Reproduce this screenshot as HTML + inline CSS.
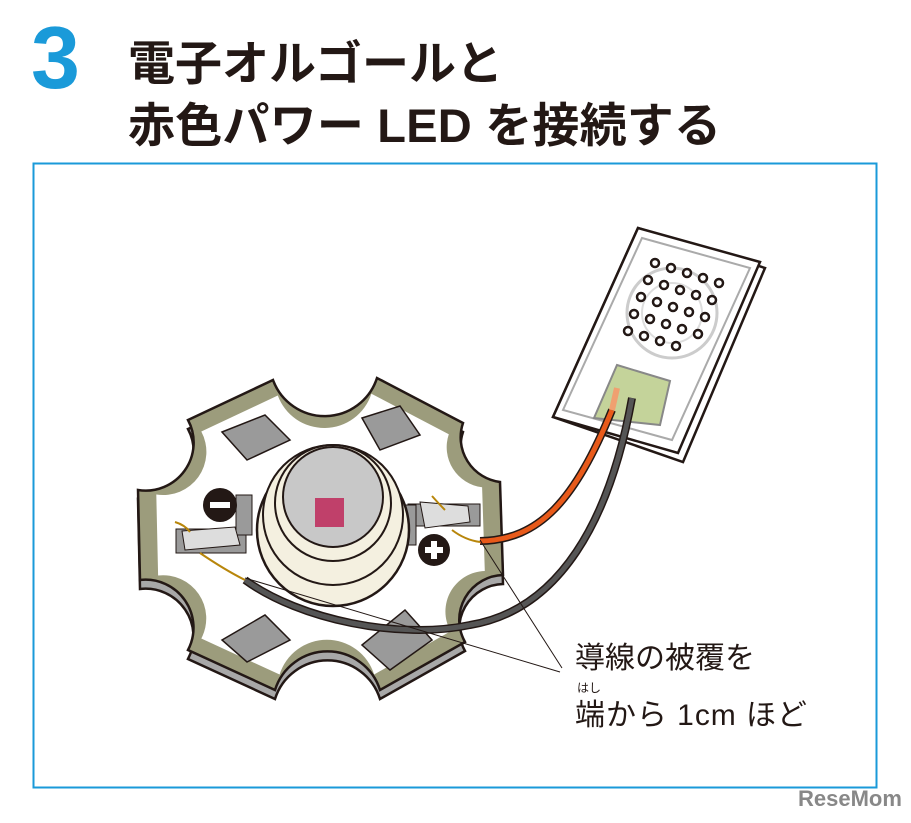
<!DOCTYPE html>
<html><head><meta charset="utf-8"><style>
body{margin:0;background:#fff;width:911px;height:818px;overflow:hidden;font-family:"Liberation Sans","Noto Sans CJK JP",sans-serif}
</style></head><body>
<svg width="911" height="818" viewBox="0 0 911 818" xmlns="http://www.w3.org/2000/svg">
<text x="31" y="88" font-family="Liberation Sans,sans-serif" font-weight="bold" font-size="88" fill="#1a9ad9">3</text>
<g font-family="Liberation Sans,Noto Sans CJK JP,sans-serif" font-weight="bold" font-size="47" fill="#231815">
<text x="128" y="80">電子オルゴールと</text>
<text x="128" y="142" textLength="593" lengthAdjust="spacing">赤色パワー LED を接続する</text>
</g>
<rect x="33.5" y="163.5" width="843" height="624" fill="none" stroke="#1a9ad9" stroke-width="2"/>
<defs>
<path id="star" d="M188,420 L273,380 A55,55 0 0 0 377,378 L463,423 A45,45 0 0 0 500,482 L503,575 A45,45 0 0 0 465,642 L380,690 A55,55 0 0 0 275,690 L188,650 A48,48 0 0 0 140,580 L138,490 A48,48 0 0 0 188,420 Z"/>
</defs>
<use href="#star" transform="translate(0,9)" fill="#a8a8a8" stroke="#231815" stroke-width="2.5"/>
<use href="#star" fill="#9c9c7c" stroke="#231815" stroke-width="2.5"/>
<use href="#star" transform="translate(321,535) scale(0.9) translate(-321,-535)" fill="#fff"/>
<g fill="#9a9a9a" stroke="#231815" stroke-width="1.5">
<polygon points="222,432 265,415 290,440 247,460"/>
<polygon points="362,418 400,406 420,435 380,450"/>
<polygon points="222,640 265,615 290,640 247,662"/>
<polygon points="362,645 405,610 432,640 390,670"/>
</g>
<rect x="176" y="529" width="70" height="24" fill="#9a9a9a" stroke="#231815"/>
<rect x="236" y="495" width="16" height="40" fill="#9a9a9a" stroke="#231815"/>
<path d="M182,531 L235,527 L240,545 L185,550 Z" fill="#ddd" stroke="#231815"/>
<rect x="408" y="504" width="72" height="22" fill="#9a9a9a" stroke="#231815"/>
<rect x="402" y="505" width="14" height="40" fill="#9a9a9a" stroke="#231815"/>
<path d="M420,502 L468,506 L470,522 L425,528 Z" fill="#ddd" stroke="#231815"/>
<circle cx="333" cy="530" r="76" fill="#f4f0e0" stroke="#231815" stroke-width="2.5"/>
<circle cx="333" cy="515" r="70" fill="#f4f0e0" stroke="#231815" stroke-width="2"/>
<circle cx="333" cy="503" r="58" fill="#f4f0e0" stroke="#231815" stroke-width="2"/>
<circle cx="333" cy="497" r="50" fill="#c8c8c8" stroke="#231815" stroke-width="2"/>
<rect x="315" y="498" width="29" height="29" fill="#c0406a"/>
<circle cx="220" cy="505" r="17" fill="#231815"/><rect x="210" y="502" width="20" height="6" fill="#fff"/>
<circle cx="434" cy="550" r="16" fill="#231815"/><rect x="425" y="547" width="18" height="6" fill="#fff"/><rect x="431" y="541" width="6" height="18" fill="#fff"/>
<path d="M175,522 Q185,525 190,532" stroke="#b8860b" stroke-width="2" fill="none"/>
<path d="M200,553 Q225,570 245,580" stroke="#b8860b" stroke-width="2" fill="none"/>
<path d="M432,496 Q440,505 445,510" stroke="#b8860b" stroke-width="2" fill="none"/>
<path d="M452,530 Q465,540 480,542" stroke="#b8860b" stroke-width="2" fill="none"/>
<polygon points="553,417 638,228 765,268 683,462 " fill="#fff" stroke="#231815" stroke-width="2.5"/>
<polygon points="553,417 638,228 760,262 678,453" fill="#fff" stroke="#231815" stroke-width="2.5"/>
<polygon points="563,410 642,238 750,268 672,440" fill="none" stroke="#aaa" stroke-width="2"/>
<circle cx="672" cy="313" r="45" fill="none" stroke="#ccc" stroke-width="3"/>
<circle cx="672" cy="313" r="30" fill="none" stroke="#ddd" stroke-width="2"/>
<g fill="#fff" stroke="#231815" stroke-width="2.5">
<circle cx="655" cy="263" r="4"/><circle cx="671" cy="268" r="4"/><circle cx="687" cy="273" r="4"/><circle cx="703" cy="278" r="4"/><circle cx="719" cy="283" r="4"/>
<circle cx="648" cy="280" r="4"/><circle cx="664" cy="285" r="4"/><circle cx="680" cy="290" r="4"/><circle cx="696" cy="295" r="4"/><circle cx="712" cy="300" r="4"/>
<circle cx="641" cy="297" r="4"/><circle cx="657" cy="302" r="4"/><circle cx="673" cy="307" r="4"/><circle cx="689" cy="312" r="4"/><circle cx="705" cy="317" r="4"/>
<circle cx="634" cy="314" r="4"/><circle cx="650" cy="319" r="4"/><circle cx="666" cy="324" r="4"/><circle cx="682" cy="329" r="4"/><circle cx="698" cy="334" r="4"/>
<circle cx="628" cy="331" r="4"/><circle cx="644" cy="336" r="4"/><circle cx="660" cy="341" r="4"/><circle cx="676" cy="346" r="4"/>
</g>
<polygon points="617,365 670,381 660,425 594,418" fill="#c4d39a" stroke="#888" stroke-width="2"/>
<path d="M480,541 C540,540 575,500 612,410" stroke="#231815" stroke-width="8" fill="none"/>
<path d="M480,541 C540,540 575,500 612,410" stroke="#e85a1a" stroke-width="5" fill="none"/>
<path d="M245,580 C300,620 400,640 470,625 C560,610 610,520 632,398" stroke="#231815" stroke-width="8" fill="none"/>
<path d="M245,580 C300,620 400,640 470,625 C560,610 610,520 632,398" stroke="#555" stroke-width="5" fill="none"/>
<path d="M612,410 L617,388" stroke="#f0a070" stroke-width="6"/>
<path d="M245,578 L560,672 M480,540 L562,668" stroke="#231815" stroke-width="1" fill="none"/>
<g font-family="Liberation Sans,Noto Sans CJK JP,sans-serif" font-size="30" fill="#231815">
<text x="575" y="668">導線の被覆を</text>
<text x="575" y="725" textLength="232" lengthAdjust="spacing">端から 1cm ほど</text>
<text x="577" y="692" font-size="12">はし</text>
</g>
<text x="798" y="806" font-family="Liberation Sans,sans-serif" font-weight="bold" font-size="22" fill="#888">ReseMom</text>
</svg>
</body></html>
